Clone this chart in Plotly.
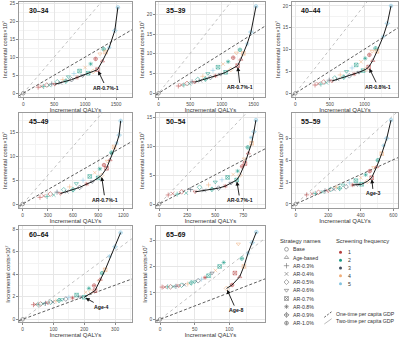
import plotly.graph_objects as go

W, H = 400, 339
FONT = "Liberation Sans, Arial, sans-serif"

# ---------------- data ----------------
AGE_GROUPS = ["30\u201334", "35\u201339", "40\u201344", "45\u201349",
              "50\u201354", "55\u201359", "60\u201364", "65\u201369"]
STRATEGY_NAMES = ["Base", "Age-based", "AR-0.3%", "AR-0.4%", "AR-0.5%", "AR-0.6%",
                  "AR-0.7%", "AR-0.8%", "AR-0.9%", "AR-1.0%"]
FREQ_LABELS = ["1", "2", "3", "4", "5"]

# strategy / frequency of each plotted strategy point (same design in every panel)
CLOUD_STRATEGY = [2, 3, 2, 4, 3, 2, 5, 4, 3, 2, 8, 5, 4, 2, 7, 6, 5, 3, 6, 7, 4, 9, 6, 5, 1, 9, 6, 7, 8, 9]
CLOUD_FREQ     = [1, 1, 2, 1, 2, 3, 1, 2, 3, 4, 2, 2, 3, 5, 1, 2, 3, 4, 2, 2, 4, 1, 1, 4, 1, 2, 4, 5, 5, 5]

# incremental QALYs / incremental costs (x10^7) per age group
P1_X = [240, 290, 330, 380, 420, 460, 510, 550, 600, 640, 690, 730, 780, 820, 870, 910, 960, 1000, 1050, 1090, 1130, 1170, 1200, 1240, 1280, 1300, 1330, 1390, 1480, 1530]
P1_Y = [1.7, 1.9, 1.9, 2.3, 2.2, 2.6, 2.5, 3.2, 2.9, 3.8, 3.4, 4.6, 3.8, 5.5, 4.4, 6.2, 4.9, 7.2, 5.6, 8.2, 6.1, 9.6, 6.6, 11.0, 9.0, 12.3, 11.5, 12.8, 17.5, 24.0]
P2_X = [313, 360, 400, 450, 490, 530, 570, 620, 660, 700, 740, 780, 820, 860, 900, 940, 980, 1020, 1060, 1100, 1140, 1180, 1250, 1230, 1300, 1287, 1340, 1400, 1460, 1540]
P2_Y = [1.85, 2.1, 2.1, 2.5, 2.4, 2.9, 2.8, 3.5, 3.2, 4.3, 3.6, 5.0, 4.0, 5.8, 4.4, 6.6, 4.8, 7.4, 5.3, 8.0, 6.0, 9.0, 7.0, 10.2, 8.6, 11.0, 10.1, 12.5, 15.5, 22.0]
P3_X = [285, 330, 370, 410, 450, 490, 530, 570, 610, 650, 700, 740, 780, 820, 850, 880, 920, 950, 980, 1010, 1020, 1070, 1060, 1110, 1120, 1160, 1180, 1270, 1330, 1383]
P3_Y = [1.9, 2.2, 2.1, 2.6, 2.4, 3.0, 2.8, 3.5, 3.2, 4.2, 3.7, 5.0, 4.0, 5.8, 4.4, 6.5, 4.8, 7.2, 5.2, 8.0, 5.5, 8.8, 6.0, 9.6, 7.5, 10.3, 9.6, 13.0, 16.0, 20.0]
P4_X = [206, 250, 290, 330, 370, 410, 450, 490, 525, 560, 600, 640, 680, 720, 764, 800, 830, 860, 900, 920, 940, 970, 1000, 1010, 1042, 1060, 1090, 1121, 1150, 1169]
P4_Y = [1.4, 1.7, 1.6, 2.1, 1.9, 2.5, 2.2, 3.0, 2.6, 3.6, 3.0, 4.3, 3.5, 5.0, 4.2, 5.8, 4.7, 6.6, 5.5, 7.4, 6.0, 8.2, 7.5, 9.0, 9.3, 10.8, 12.0, 12.8, 14.5, 17.5]
P5_X = [80, 120, 160, 200, 240, 280, 320, 360, 400, 440, 470, 500, 530, 560, 590, 610, 640, 660, 691, 700, 720, 740, 765, 760, 795, 790, 825, 820, 845, 863]
P5_Y = [1.56, 1.8, 1.7, 2.1, 1.9, 2.5, 2.1, 2.9, 2.35, 3.3, 2.55, 3.8, 2.75, 4.2, 3.1, 4.6, 3.6, 5.1, 4.15, 5.7, 5.0, 6.5, 7.0, 7.8, 8.8, 9.8, 10.5, 11.5, 12.5, 14.5]
P6_X = [67, 100, 120, 140, 165, 180, 200, 215, 235, 250, 270, 290, 310, 330, 350, 370, 380, 400, 405, 430, 440, 455, 467, 480, 498, 505, 529, 540, 560, 586]
P6_Y = [1.25, 1.4, 1.45, 1.6, 1.65, 1.8, 1.8, 2.0, 2.0, 2.3, 2.15, 2.6, 2.35, 2.9, 2.6, 3.2, 2.65, 3.6, 2.7, 4.0, 3.1, 4.5, 3.6, 5.0, 5.1, 6.0, 6.9, 8.0, 9.0, 11.5]
P7_X = [35, 42, 50, 58, 66, 74, 82, 90, 98, 108, 118, 128, 140, 150, 162, 175, 186, 205, 200, 215, 222, 232, 235, 248, 252, 258, 268, 282, 300, 318]
P7_Y = [1.30, 1.32, 1.33, 1.36, 1.38, 1.42, 1.46, 1.50, 1.55, 1.62, 1.68, 1.75, 1.80, 1.95, 1.90, 2.15, 1.98, 2.40, 1.96, 2.75, 2.45, 3.0, 2.55, 3.4, 3.55, 4.1, 4.4, 5.6, 6.45, 7.7]
P8_X = [3, 7, 11, 15, 19, 23, 27, 31, 35, 40, 45, 50, 55, 60, 65, 70, 75, 80, 86, 92, 96, 104, 108, 113, 115, 118, 121, 127, 133, 139]
P8_Y = [1.22, 1.22, 1.23, 1.23, 1.24, 1.25, 1.27, 1.29, 1.31, 1.34, 1.38, 1.42, 1.46, 1.52, 1.58, 1.65, 1.75, 1.85, 2.0, 2.15, 1.17, 1.3, 1.75, 2.85, 1.61, 2.3, 2.0, 2.5, 2.9, 3.3]

# cost-effectiveness frontier: indices into the points above
P1_FRONTIER = [6, 8, 10, 12, 14, 16, 18, 20, 22, 24, 27, 28, 29]
P2_FRONTIER = [6, 8, 10, 12, 14, 16, 18, 20, 22, 24, 26, 27, 28, 29]
P3_FRONTIER = [6, 8, 10, 12, 14, 16, 18, 20, 22, 24, 26, 27, 28, 29]
P4_FRONTIER = [6, 8, 10, 12, 14, 16, 18, 20, 22, 24, 27, 28, 29]
P5_FRONTIER = [6, 8, 10, 12, 14, 16, 18, 20, 22, 24, 26, 28, 29]
P6_FRONTIER = [14, 16, 18, 20, 22, 24, 26, 28, 29]
P7_FRONTIER = [18, 22, 26, 28, 29]
P8_FRONTIER = [20, 21, 24, 26, 27, 28, 29]

# optimal strategy labels
OPT_LABELS = ["AR-0.7%-1", "AR-0.7%-1", "AR-0.8%-1", "AR-0.7%-1", "AR-0.7%-1", "Age-3", "Age-4", "Age-8"]
OPT_POINT = [22, 22, 22, 20, 18, 22, 18, 20]
OPT_LABEL_X = [1340, 1290, 1199, 982, 720, 477, 257, 110]
OPT_LABEL_Y = [1.6, 1.5, 1.5, 0.9, 0.7, 1.45, 1.1, 0.35]

# willingness-to-pay thresholds (x10^7 per QALY)
WTP_ONE = 0.0101
WTP_TWO = 2 * WTP_ONE
THRESHOLD_NAMES = ["One-time per capita GDP", "Two-time per capita GDP"]

X_TICKS = [[0, 500, 1000, 1500], [0, 500, 1000, 1500], [0, 500, 1000],
           [0, 300, 600, 900, 1200], [0, 250, 500, 750], [0, 200, 400, 600],
           [0, 100, 200, 300], [0, 50, 100]]
Y_TICKS = [[0, 5, 10, 15, 20, 25], [0, 5, 10, 15, 20], [0, 5, 10, 15, 20],
           [0, 5, 10, 15], [0, 5, 10, 15], [0, 3, 6, 9], [0, 2, 4, 6, 8], [0, 1, 2, 3]]

PANEL_X = [P1_X, P2_X, P3_X, P4_X, P5_X, P6_X, P7_X, P8_X]
PANEL_Y = [P1_Y, P2_Y, P3_Y, P4_Y, P5_Y, P6_Y, P7_Y, P8_Y]
PANEL_FRONTIER = [P1_FRONTIER, P2_FRONTIER, P3_FRONTIER, P4_FRONTIER,
                  P5_FRONTIER, P6_FRONTIER, P7_FRONTIER, P8_FRONTIER]

# ---------------- style ----------------
X_RANGES = [[-69, 1758], [-40, 1682], [-48, 1484], [-44, 1304],
            [-29, 944], [-23, 629], [-12, 355], [-5.8, 151.5]]
Y_RANGES = [[-1.05, 25.5], [-0.94, 23.1], [-0.85, 20.9], [-0.84, 19.15],
            [-0.69, 15.74], [-0.55, 12.47], [-0.24, 8.29], [-0.1, 3.53]]
COL_L = [19, 156, 292]
COL_R = [132, 265, 398]
ROW_T = [2, 113, 226]
ROW_B = [97, 208, 322]

SYMBOLS = ["circle-open", "triangle-up-open", "cross-thin-open", "x-thin-open", "diamond-open",
           "triangle-down-open", "square-x-open", "asterisk-open", "diamond-cross-open",
           "circle-cross-open"]
FREQ_COLORS = ["#B5403F", "#1E9C89", "#3E4B5C", "#F0AE7A", "#84C3DF"]
LEGEND_GREY = "#6B6B6B"

fig = go.Figure()
layout = dict(width=W, height=H, margin=dict(l=0, r=0, t=0, b=0, autoexpand=False),
              paper_bgcolor="white", plot_bgcolor="rgba(0,0,0,0)", showlegend=False,
              font=dict(family=FONT, size=6, color="#333333"))
annotations = []
shapes = []


def minor_vals(ticks, rng):
    step = ticks[1] - ticks[0]
    vals = []
    v = ticks[0] - step / 2
    while v <= rng[1]:
        if v >= rng[0]:
            vals.append(v)
        v += step
    return vals


for i in range(8):
    r, c = divmod(i, 3)
    n = "" if i == 0 else str(i + 1)
    xa, ya = "x" + n, "y" + n
    xr, yr = X_RANGES[i], Y_RANGES[i]
    px, py = PANEL_X[i], PANEL_Y[i]

    # threshold lines
    fig.add_trace(go.Scatter(x=[xr[0], xr[1]], y=[WTP_TWO * xr[0], WTP_TWO * xr[1]],
                             xaxis=xa, yaxis=ya, mode="lines", hoverinfo="skip",
                             line=dict(color="#A8A8A8", width=0.7, dash="dot")))
    fig.add_trace(go.Scatter(x=[xr[0], xr[1]], y=[WTP_ONE * xr[0], WTP_ONE * xr[1]],
                             xaxis=xa, yaxis=ya, mode="lines", hoverinfo="skip",
                             line=dict(color="#333333", width=0.8, dash="3px,2px")))
    # base point
    fig.add_trace(go.Scatter(x=[0], y=[0], xaxis=xa, yaxis=ya, mode="markers",
                             marker=dict(symbol=SYMBOLS[0], size=3.6, color=LEGEND_GREY,
                                         line=dict(width=0.6, color=LEGEND_GREY))))
    # strategy points
    cols = [FREQ_COLORS[f - 1] for f in CLOUD_FREQ]
    fig.add_trace(go.Scatter(x=px, y=py, xaxis=xa, yaxis=ya, mode="markers",
                             marker=dict(symbol=[SYMBOLS[s] for s in CLOUD_STRATEGY],
                                         size=3.6, color=cols, opacity=0.85,
                                         line=dict(width=0.6, color=cols))))
    # frontier
    fr = PANEL_FRONTIER[i]
    fig.add_trace(go.Scatter(x=[px[k] for k in fr], y=[py[k] for k in fr],
                             xaxis=xa, yaxis=ya, mode="lines",
                             line=dict(color="#1A1A1A", width=1.0)))

    dom_x = [COL_L[c] / W, COL_R[c] / W]
    dom_y = [1 - ROW_B[r] / H, 1 - ROW_T[r] / H]
    common = dict(showgrid=True, gridcolor="#E6E6E6", gridwidth=0.6, zeroline=False,
                  showline=True, linecolor="#9A9A9A", linewidth=0.8, mirror=True,
                  ticks="outside", ticklen=2, tickwidth=0.6, tickcolor="#8A8A8A",
                  tickfont=dict(size=4.8, color="#4D4D4D", family=FONT),
                  tickmode="array", automargin=False)
    layout["xaxis" + n] = dict(common, domain=dom_x, range=xr, anchor=ya,
                               tickvals=X_TICKS[i], ticktext=[str(v) for v in X_TICKS[i]],
                               minor=dict(tickmode="array", tickvals=minor_vals(X_TICKS[i], xr),
                                          showgrid=True, gridcolor="#F3F3F3", gridwidth=0.5, ticklen=0),
                               title=dict(text="Incremental QALYs", font=dict(size=6, color="#333333"),
                                          standoff=1))
    layout["yaxis" + n] = dict(common, domain=dom_y, range=yr, anchor=xa,
                               tickvals=Y_TICKS[i], ticktext=[str(v) for v in Y_TICKS[i]],
                               minor=dict(tickmode="array", tickvals=minor_vals(Y_TICKS[i], yr),
                                          showgrid=True, gridcolor="#F3F3F3", gridwidth=0.5, ticklen=0),
                               title=dict(text="Incremental costs\u00d710\u2077",
                                          font=dict(size=5.8, color="#333333"), standoff=1))
    # age group label
    annotations.append(dict(text=AGE_GROUPS[i], xref=xa + " domain", yref=ya + " domain",
                            x=0.07, y=0.915, xanchor="left", yanchor="middle", showarrow=False,
                            font=dict(size=7, color="#111111", weight="bold")))
    # optimal strategy arrow
    k = OPT_POINT[i]
    annotations.append(dict(text=OPT_LABELS[i], x=px[k], y=py[k], xref=xa, yref=ya,
                            ax=OPT_LABEL_X[i], ay=OPT_LABEL_Y[i], axref=xa, ayref=ya,
                            showarrow=True, arrowhead=2, arrowsize=0.9, arrowwidth=0.9,
                            arrowcolor="#111111", standoff=1.5,
                            font=dict(size=5.2, color="#111111", weight="bold")))

# ---------------- legend (bottom-right cell) ----------------
layout["xaxis9"] = dict(domain=[0, 1], range=[0, W], visible=False, fixedrange=True, automargin=False)
layout["yaxis9"] = dict(domain=[0, 1], range=[H, 0], visible=False, fixedrange=True, anchor="x9",
                        automargin=False)

LEG_S_X, LEG_S_Y0, LEG_S_DY = 286.5, 249.3, 8.2
LEG_F_X, LEG_F_Y0, LEG_F_DY = 340.5, 252.3, 7.85

fig.add_trace(go.Scatter(x=[LEG_S_X] * len(STRATEGY_NAMES),
                         y=[LEG_S_Y0 + LEG_S_DY * j for j in range(len(STRATEGY_NAMES))],
                         xaxis="x9", yaxis="y9", mode="markers",
                         marker=dict(symbol=SYMBOLS, size=3.8, color=LEGEND_GREY,
                                     line=dict(width=0.6, color=LEGEND_GREY))))
fig.add_trace(go.Scatter(x=[LEG_F_X] * len(FREQ_LABELS),
                         y=[LEG_F_Y0 + LEG_F_DY * j for j in range(len(FREQ_LABELS))],
                         xaxis="x9", yaxis="y9", mode="markers",
                         marker=dict(symbol="circle", size=3.0, color=FREQ_COLORS)))

annotations.append(dict(text="Strategy names", x=278, y=240.7, xref="x9", yref="y9",
                        xanchor="left", yanchor="middle", showarrow=False,
                        font=dict(size=5.8, color="#333333")))
for j, name in enumerate(STRATEGY_NAMES):
    annotations.append(dict(text=name, x=291, y=LEG_S_Y0 + LEG_S_DY * j, xref="x9", yref="y9",
                            xanchor="left", yanchor="middle", showarrow=False,
                            font=dict(size=5.2, color="#333333")))
annotations.append(dict(text="Screening frequency", x=334, y=240.7, xref="x9", yref="y9",
                        xanchor="left", yanchor="middle", showarrow=False,
                        font=dict(size=5.8, color="#333333")))
for j, name in enumerate(FREQ_LABELS):
    annotations.append(dict(text=name, x=346, y=LEG_F_Y0 + LEG_F_DY * j, xref="x9", yref="y9",
                            xanchor="left", yanchor="middle", showarrow=False,
                            font=dict(size=5.2, color="#333333")))
# threshold line keys
shapes.append(dict(type="line", xref="x9", yref="y9", x0=324.3, y0=317.3, x1=331.7, y1=311.7,
                   line=dict(color="#333333", width=0.8, dash="2px,1.5px")))
shapes.append(dict(type="line", xref="x9", yref="y9", x0=324.3, y0=324.0, x1=331.7, y1=318.7,
                   line=dict(color="#A8A8A8", width=0.8)))
annotations.append(dict(text=THRESHOLD_NAMES[0], x=334, y=314.3, xref="x9", yref="y9",
                        xanchor="left", yanchor="middle", showarrow=False,
                        font=dict(size=5.2, color="#333333")))
annotations.append(dict(text=THRESHOLD_NAMES[1], x=334, y=320.6, xref="x9", yref="y9",
                        xanchor="left", yanchor="middle", showarrow=False,
                        font=dict(size=5.2, color="#333333")))

layout["annotations"] = annotations
layout["shapes"] = shapes
fig.update_layout(**layout)
fig.write_html("out.html", config={"displayModeBar": False},
               post_script="document.body.style.margin='0';document.body.style.padding='0';"
                           "document.documentElement.style.overflow='hidden';")
